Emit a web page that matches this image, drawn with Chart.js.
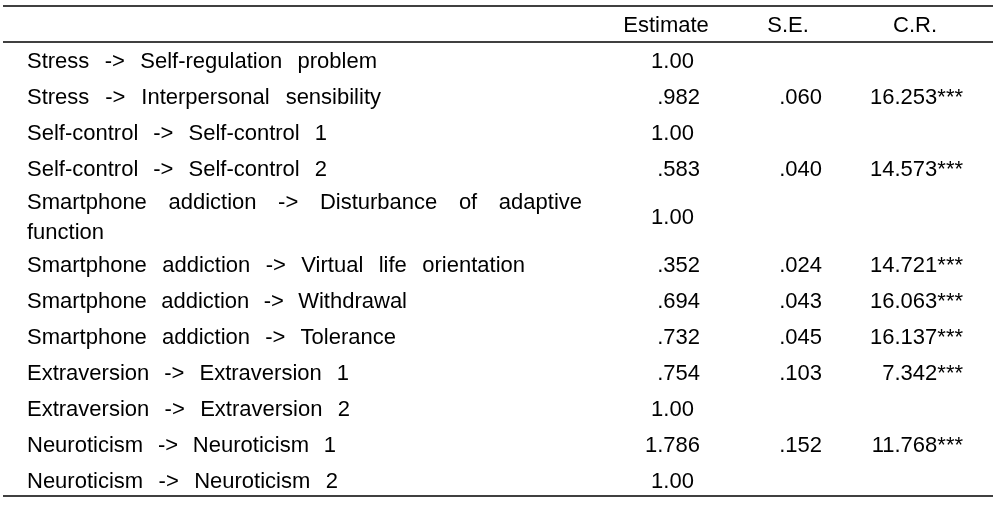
<!DOCTYPE html>
<html>
<head>
<meta charset="utf-8">
<script src="https://cdn.jsdelivr.net/npm/chart.js@4.4.1/dist/chart.umd.min.js"></script>
<style>
html, body { margin: 0; padding: 0; background: #fff; }
#wrap { width: 1004px; height: 506px; }
</style>
</head>
<body>
<div id="wrap"><canvas id="table" width="1004" height="506"></canvas></div>
<script>
// table content
const headers = ['Estimate', 'S.E.', 'C.R.'];
const paths = [
    ['Stress -> Self-regulation problem'],
    ['Stress -> Interpersonal sensibility'],
    ['Self-control -> Self-control 1'],
    ['Self-control -> Self-control 2'],
    ['Smartphone addiction -> Disturbance of adaptive', 'function'],
    ['Smartphone addiction -> Virtual life orientation'],
    ['Smartphone addiction -> Withdrawal'],
    ['Smartphone addiction -> Tolerance'],
    ['Extraversion -> Extraversion 1'],
    ['Extraversion -> Extraversion 2'],
    ['Neuroticism -> Neuroticism 1'],
    ['Neuroticism -> Neuroticism 2']
];
const estimates = ['1.00', '.982', '1.00', '.583', '1.00', '.352', '.694', '.732', '.754', '1.00', '1.786', '1.00'];
const stdErrors = [null, '.060', null, '.040', null, '.024', '.043', '.045', '.103', null, '.152', null];
const critRatios = [null, '16.253***', null, '14.573***', null, '14.721***', '16.063***', '16.137***', '7.342***', null, '11.768***', null];

// layout (pixels of the 1004x506 page)
const W = 1004, H = 506;
const fontSize = 22;
const font = fontSize + 'px "Liberation Sans", Arial, sans-serif';
const rowH = 36, wrapLineH = 30;
const ruleTop = 6, ruleHead = 42, ruleBottom = 496;
const ruleLeft = 3, ruleRight = 993;
const headY = 24;
const labelX = 27;
const colRight = [700, 822, 963];
const headCenter = [666, 788, 915];
// where the first line of each path label ends (text is spread like the source)
const labelRight = [377, 381, 327, 327, 582, 525, 407, 396, 349, 350, 336, 338];

const columns = [estimates, stdErrors, critRatios];

// row centres from the row heights
const rowY = [];
let rowTop = ruleHead;
paths.forEach(p => {
    const h = rowH + (p.length - 1) * (wrapLineH - 6);
    rowY.push(rowTop + h / 2);
    rowTop += h;
});

function cellSet(name, xs, ys, texts, align){
    const data = [];
    texts.forEach((t, i) => {
        if(t === null) return;
        data.push({x: xs[i], y: ys[i], text: t, row: i});
    });
    return {label: name, data: data, align: align, pointRadius: 0, pointHoverRadius: 0, showLine: false};
}

const datasets = [
    cellSet('head', headCenter, headers.map(() => headY), headers, 'center'),
    cellSet('path', paths.map(() => labelX), rowY, paths, 'spread')
];
columns.forEach((col, j) => {
    datasets.push(cellSet(headers[j], col.map(() => colRight[j]), rowY, col, 'right'));
});

function drawSpread(ctx, text, x0, y0, right){
    const words = text.split(' ');
    const sp = ctx.measureText(' ').width;
    if(!right || words.length < 2){
        ctx.fillText(text, x0, y0);
        return;
    }
    const ws = words.map(w => ctx.measureText(w).width);
    const sum = ws.reduce((a, b) => a + b, 0);
    let gap = (right - x0 - sum) / (words.length - 1);
    gap < sp * 0.8 ? gap = sp * 0.8 : null;
    let cx = x0;
    words.forEach((w, i) => {
        ctx.fillText(w, cx, y0);
        cx += ws[i] + gap;
    });
}

const tablePlugin = {
    id: 'tableText',
    afterDatasetsDraw(chart){
        const ctx = chart.ctx;
        const x = chart.scales.x, y = chart.scales.y;
        ctx.save();

        //rules
        ctx.strokeStyle = '#000';
        ctx.lineWidth = 1.3;
        [ruleTop, ruleHead, ruleBottom].forEach(v => {
            const py = y.getPixelForValue(v);
            ctx.beginPath();
            ctx.moveTo(x.getPixelForValue(ruleLeft), py);
            ctx.lineTo(x.getPixelForValue(ruleRight), py);
            ctx.stroke();
        });

        //cells
        ctx.fillStyle = '#000';
        ctx.font = font;
        ctx.textBaseline = 'alphabetic';
        const base = fontSize * 0.358;
        chart.data.datasets.forEach((ds, di) => {
            const meta = chart.getDatasetMeta(di);
            meta.data.forEach((pt, k) => {
                const cell = ds.data[k];
                if(ds.align === 'spread'){
                    ctx.textAlign = 'left';
                    const lines = cell.text;
                    const y0 = pt.y - (lines.length - 1) * wrapLineH / 2;
                    lines.forEach((ln, li) => {
                        const right = li < lines.length - 1 || lines.length === 1 ? x.getPixelForValue(labelRight[cell.row]) : null;
                        drawSpread(ctx, ln, pt.x, y0 + li * wrapLineH + base, right);
                    });
                }else{
                    ctx.textAlign = ds.align;
                    let t = cell.text;
                    t === '1.00' ? t = '1.00 ' : null;
                    ctx.fillText(t, pt.x, pt.y + base);
                }
            });
        });
        ctx.restore();
    }
};

new Chart(document.getElementById('table'), {
    type: 'scatter',
    data: {datasets: datasets},
    options: {
        responsive: false,
        animation: false,
        devicePixelRatio: 1,
        layout: {padding: 0},
        events: [],
        scales: {
            x: {type: 'linear', min: 0, max: W, display: false},
            y: {type: 'linear', min: 0, max: H, reverse: true, display: false}
        },
        plugins: {
            legend: {display: false},
            tooltip: {enabled: false}
        }
    },
    plugins: [tablePlugin]
});
</script>
</body>
</html>
